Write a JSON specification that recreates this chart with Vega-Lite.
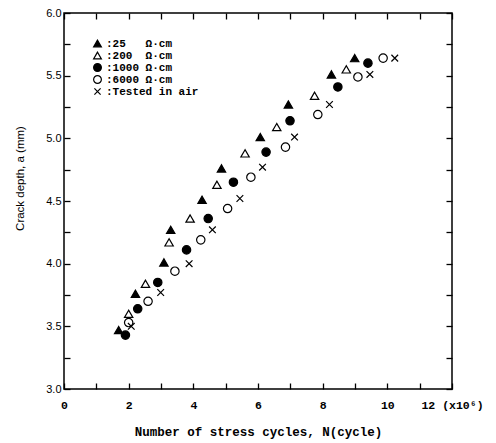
{
  "$schema": "https://vega.github.io/schema/vega-lite/v6.json",
  "width": 388,
  "height": 376,
  "autosize": {"type": "none"},
  "padding": {"left": 64, "top": 13, "right": 44, "bottom": 54},
  "background": "white",
  "config": {
    "view": {"stroke": "black", "strokeWidth": 1.5},
    "axis": {"domain": false, "grid": false, "tickColor": "black", "labelColor": "black", "titleColor": "black"},
    "legend": {"labelColor": "black", "title": null, "orient": "none", "legendX": 28, "legendY": 25,
      "labelFont": "Liberation Mono", "labelFontWeight": "bold", "labelFontSize": 11,
      "symbolStrokeWidth": 1.2, "symbolSize": 60, "rowPadding": -1, "labelOffset": 3}
  },
  "data": {
    "values": [
      {"series": ":25\u00a0\u00a0\u00a0Ω·cm", "N": 1.69, "a": 3.47},
      {"series": ":25\u00a0\u00a0\u00a0Ω·cm", "N": 2.21, "a": 3.76},
      {"series": ":25\u00a0\u00a0\u00a0Ω·cm", "N": 3.09, "a": 4.01},
      {"series": ":25\u00a0\u00a0\u00a0Ω·cm", "N": 3.30, "a": 4.27},
      {"series": ":25\u00a0\u00a0\u00a0Ω·cm", "N": 4.27, "a": 4.51},
      {"series": ":25\u00a0\u00a0\u00a0Ω·cm", "N": 4.87, "a": 4.76},
      {"series": ":25\u00a0\u00a0\u00a0Ω·cm", "N": 6.07, "a": 5.01},
      {"series": ":25\u00a0\u00a0\u00a0Ω·cm", "N": 6.94, "a": 5.27},
      {"series": ":25\u00a0\u00a0\u00a0Ω·cm", "N": 8.27, "a": 5.51},
      {"series": ":25\u00a0\u00a0\u00a0Ω·cm", "N": 8.99, "a": 5.64},
      {"series": ":200\u00a0\u00a0Ω·cm", "N": 2.00, "a": 3.60},
      {"series": ":200\u00a0\u00a0Ω·cm", "N": 2.52, "a": 3.84},
      {"series": ":200\u00a0\u00a0Ω·cm", "N": 3.25, "a": 4.17},
      {"series": ":200\u00a0\u00a0Ω·cm", "N": 3.90, "a": 4.36},
      {"series": ":200\u00a0\u00a0Ω·cm", "N": 4.73, "a": 4.63},
      {"series": ":200\u00a0\u00a0Ω·cm", "N": 5.60, "a": 4.88},
      {"series": ":200\u00a0\u00a0Ω·cm", "N": 6.58, "a": 5.09},
      {"series": ":200\u00a0\u00a0Ω·cm", "N": 7.75, "a": 5.34},
      {"series": ":200\u00a0\u00a0Ω·cm", "N": 8.73, "a": 5.55},
      {"series": ":1000\u00a0Ω·cm", "N": 1.90, "a": 3.43},
      {"series": ":1000\u00a0Ω·cm", "N": 2.28, "a": 3.64},
      {"series": ":1000\u00a0Ω·cm", "N": 2.90, "a": 3.85},
      {"series": ":1000\u00a0Ω·cm", "N": 3.79, "a": 4.11},
      {"series": ":1000\u00a0Ω·cm", "N": 4.46, "a": 4.36},
      {"series": ":1000\u00a0Ω·cm", "N": 5.24, "a": 4.65},
      {"series": ":1000\u00a0Ω·cm", "N": 6.25, "a": 4.89},
      {"series": ":1000\u00a0Ω·cm", "N": 6.99, "a": 5.14},
      {"series": ":1000\u00a0Ω·cm", "N": 8.47, "a": 5.41},
      {"series": ":1000\u00a0Ω·cm", "N": 9.40, "a": 5.60},
      {"series": ":6000\u00a0Ω·cm", "N": 2.00, "a": 3.53},
      {"series": ":6000\u00a0Ω·cm", "N": 2.60, "a": 3.70},
      {"series": ":6000\u00a0Ω·cm", "N": 3.43, "a": 3.94},
      {"series": ":6000\u00a0Ω·cm", "N": 4.23, "a": 4.19},
      {"series": ":6000\u00a0Ω·cm", "N": 5.06, "a": 4.44},
      {"series": ":6000\u00a0Ω·cm", "N": 5.78, "a": 4.69},
      {"series": ":6000\u00a0Ω·cm", "N": 6.85, "a": 4.93},
      {"series": ":6000\u00a0Ω·cm", "N": 7.85, "a": 5.19},
      {"series": ":6000\u00a0Ω·cm", "N": 9.09, "a": 5.49},
      {"series": ":6000\u00a0Ω·cm", "N": 9.87, "a": 5.64},
      {"series": ":Tested in air", "N": 2.08, "a": 3.50},
      {"series": ":Tested in air", "N": 2.99, "a": 3.77},
      {"series": ":Tested in air", "N": 3.87, "a": 4.00},
      {"series": ":Tested in air", "N": 4.59, "a": 4.27},
      {"series": ":Tested in air", "N": 5.44, "a": 4.52},
      {"series": ":Tested in air", "N": 6.14, "a": 4.77},
      {"series": ":Tested in air", "N": 7.13, "a": 5.01},
      {"series": ":Tested in air", "N": 8.21, "a": 5.27},
      {"series": ":Tested in air", "N": 9.46, "a": 5.51},
      {"series": ":Tested in air", "N": 10.23, "a": 5.64}
    ]
  },
  "layer": [
    {
      "mark": {"type": "point", "filled": false, "strokeWidth": 1.2, "size": 70, "opacity": 1},
      "encoding": {
        "x": {
          "field": "N", "type": "quantitative",
          "scale": {"domain": [0, 12], "nice": false, "zero": false},
          "axis": {
            "orient": "bottom",
            "values": [0,1,2,3,4,5,6,7,8,9,10,11,12],
            "labelExpr": "datum.value == 12 ? '12 (x10⁶)' : (datum.value % 2 == 0 ? datum.label : '')",
            "tickSize": -6, "tickWidth": 1.3,
            "labelFont": "Liberation Mono", "labelFontWeight": "bold", "labelFontSize": 11.5, "labelColor": "black",
            "labelPadding": 16, "labelFlush": false, "labelOverlap": false,
            "title": "Number of stress cycles, N(cycle)",
            "titleFont": "Liberation Mono", "titleFontWeight": "bold", "titleFontSize": 12.5, "titleColor": "black",
            "titlePadding": 15
          }
        },
        "y": {
          "field": "a", "type": "quantitative",
          "scale": {"domain": [3, 6], "nice": false, "zero": false},
          "axis": {
            "orient": "left",
            "values": [3,3.25,3.5,3.75,4,4.25,4.5,4.75,5,5.25,5.5,5.75,6],
            "labelExpr": "(datum.value * 2) % 1 == 0 ? format(datum.value, '.1f') : ''",
            "tickSize": -6, "tickWidth": 1.3,
            "labelFont": "Liberation Sans", "labelFontSize": 11, "labelColor": "black",
            "labelPadding": 9, "labelFlush": false, "labelOverlap": false,
            "title": "Crack depth, a (mm)",
            "titleFont": "Liberation Sans", "titleFontSize": 11.5, "titleFontWeight": "normal", "titleColor": "black",
            "titlePadding": 20, "titleY": 165
          }
        },
        "shape": {
          "field": "series", "type": "nominal",
          "sort": [":25\u00a0\u00a0\u00a0Ω·cm", ":200\u00a0\u00a0Ω·cm", ":1000\u00a0Ω·cm", ":6000\u00a0Ω·cm", ":Tested in air"],
          "scale": {
            "domain": [":25\u00a0\u00a0\u00a0Ω·cm", ":200\u00a0\u00a0Ω·cm", ":1000\u00a0Ω·cm", ":6000\u00a0Ω·cm", ":Tested in air"],
            "range": ["triangle-up", "triangle-up", "circle", "circle", "M-0.8,-0.8L0.8,0.8M0.8,-0.8L-0.8,0.8"]
          }
        },
        "fill": {
          "field": "series", "type": "nominal",
          "scale": {
            "domain": [":25\u00a0\u00a0\u00a0Ω·cm", ":200\u00a0\u00a0Ω·cm", ":1000\u00a0Ω·cm", ":6000\u00a0Ω·cm", ":Tested in air"],
            "range": ["black", "transparent", "black", "transparent", "transparent"]
          }
        },
        "stroke": {
          "field": "series", "type": "nominal",
          "scale": {
            "domain": [":25\u00a0\u00a0\u00a0Ω·cm", ":200\u00a0\u00a0Ω·cm", ":1000\u00a0Ω·cm", ":6000\u00a0Ω·cm", ":Tested in air"],
            "range": ["black", "black", "black", "black", "black"]
          }
        }
      }
    },
    {
      "mark": {"type": "point", "opacity": 0},
      "encoding": {
        "x": {
          "field": "N", "type": "quantitative",
          "scale": {"domain": [0, 12], "nice": false, "zero": false},
          "axis": {"orient": "top", "values": [0,1,2,3,4,5,6,7,8,9,10,11,12], "labels": false, "title": null, "tickSize": -6, "tickWidth": 1.3}
        },
        "y": {
          "field": "a", "type": "quantitative",
          "scale": {"domain": [3, 6], "nice": false, "zero": false},
          "axis": {"orient": "right", "values": [3,3.25,3.5,3.75,4,4.25,4.5,4.75,5,5.25,5.5,5.75,6], "labels": false, "title": null, "tickSize": -6, "tickWidth": 1.3}
        }
      }
    }
  ],
  "resolve": {"axis": {"x": "independent", "y": "independent"}}
}
